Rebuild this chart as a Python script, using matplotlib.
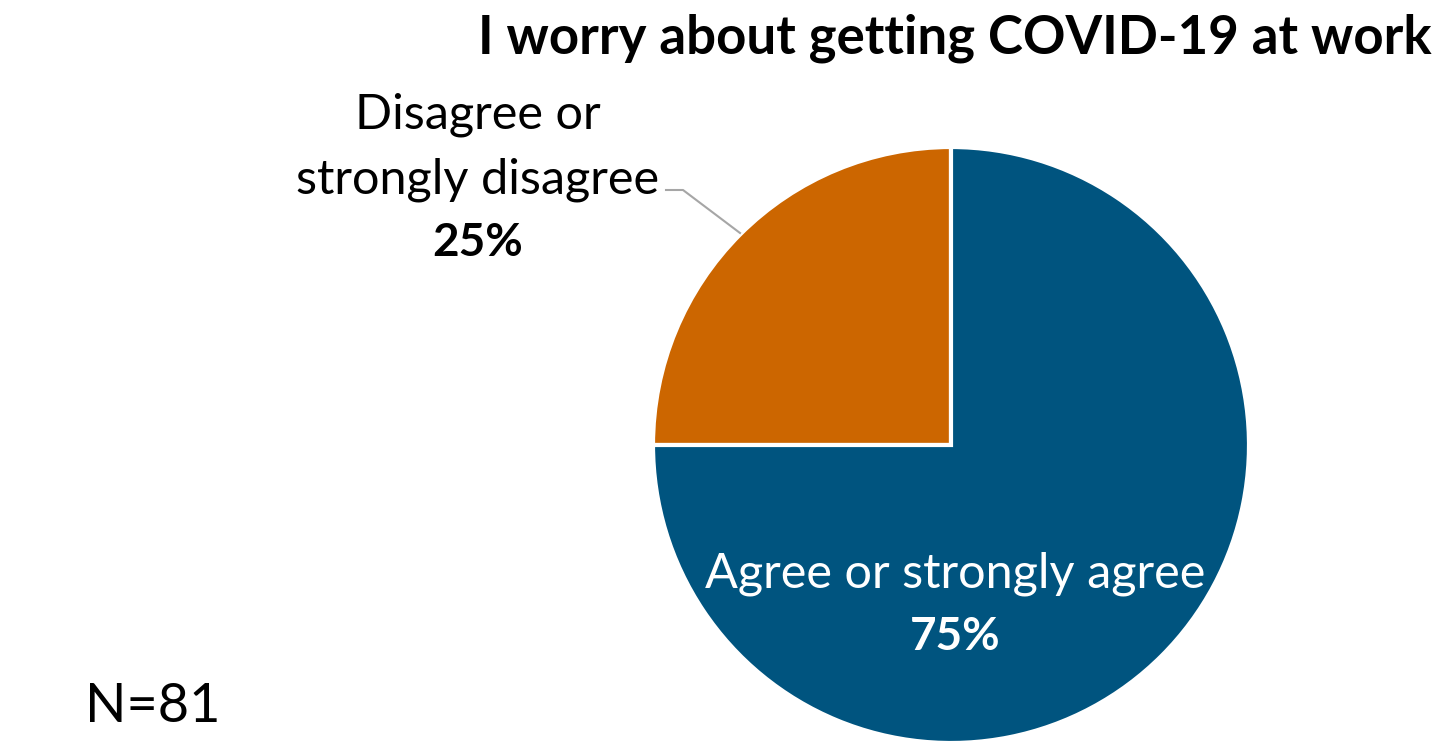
import matplotlib
matplotlib.use("Agg")
import matplotlib.pyplot as plt

title = "I worry about getting COVID-19 at work"
categories = ["Disagree or\nstrongly disagree", "Agree or strongly agree"]
values = [25, 75]
colors = ["#CC6600", "#00547F"]
note = "N=81"

plt.rcParams['font.family'] = ['Lato', 'DejaVu Sans']

W, H = 1455, 754
fig = plt.figure(figsize=(W / 100, H / 100), dpi=100)
ax = fig.add_axes([0, 0, 1, 1])

cx, cy, r = 951, H - 445, 298
wedges, _ = ax.pie(values, colors=colors, startangle=90, counterclock=True,
                   center=(cx, cy), radius=r,
                   wedgeprops=dict(edgecolor='white', linewidth=3))
ax.set_xlim(0, W)
ax.set_ylim(0, H)
ax.set_aspect('equal')
ax.axis('off')

ax.text(1432, H - 38, title, ha='right', va='center', fontsize=38, fontweight='bold')

# Orange label
lines = categories[0].split("\n")
ax.text(478, H - 115, lines[0], ha='center', va='center', fontsize=35)
ax.text(478, H - 180, lines[1], ha='center', va='center', fontsize=35)
ax.text(478, H - 243, f"{values[0]}%", ha='center', va='center', fontsize=33, fontweight='bold')
ax.plot([666, 683, 740], [H - 190, H - 190, H - 233], color='#A6A6A6', lw=1.5)

# Blue label
ax.text(955, H - 574, categories[1], ha='center', va='center', fontsize=35, color='white')
ax.text(955, H - 637, f"{values[1]}%", ha='center', va='center', fontsize=33, fontweight='bold', color='white')

ax.text(85, H - 707, note, ha='left', va='center', fontsize=39)

fig.savefig("out.png", dpi=100, facecolor='white')
